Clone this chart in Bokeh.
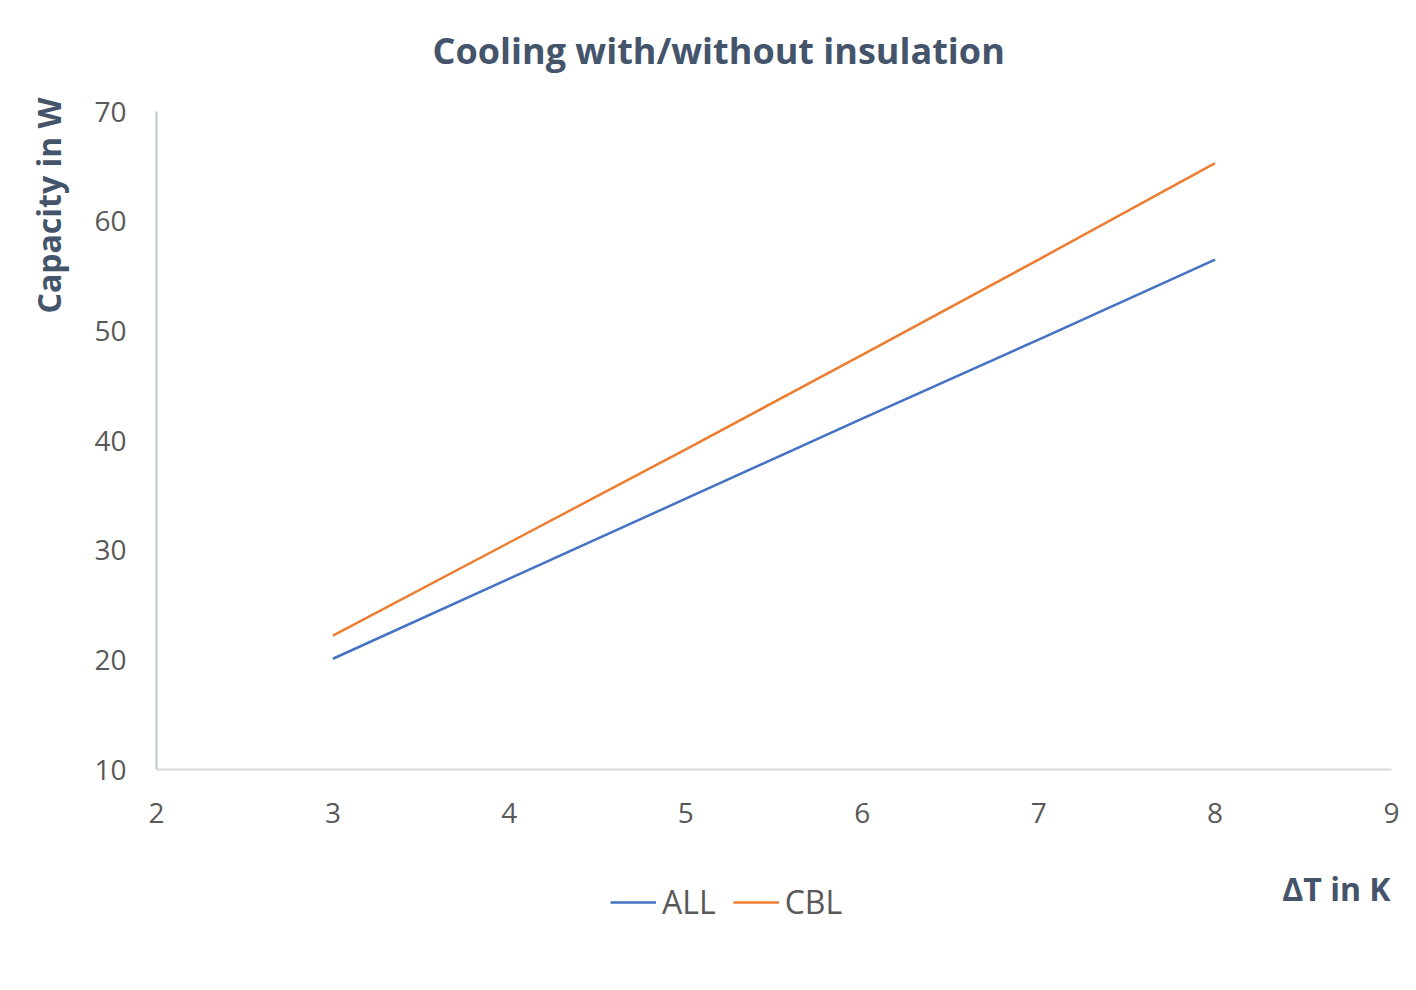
from bokeh.plotting import figure
from bokeh.layouts import column
from bokeh.models import Legend, LegendItem, FixedTicker, Range1d, Title, Label
from bokeh.embed import file_html
from bokeh.resources import INLINE

# Data
delta_t = [3, 4, 5, 6, 7, 8]
all_cap = [20.1, 27.4, 34.7, 42.0, 49.2, 56.5]
cbl_cap = [22.2, 30.7, 39.2, 47.8, 56.5, 65.3]
x_ticks = [2, 3, 4, 5, 6, 7, 8, 9]
y_ticks = [10, 20, 30, 40, 50, 60, 70]

TEXT = "#595959"
TITLE = "#44546A"
FONT = "Open Sans"
BLUE = "#4472C4"
ORANGE = "#ED7D31"


def strip(height):
    f = figure(width=1416, height=height, output_backend="svg", toolbar_location=None,
               x_range=Range1d(100, 101), y_range=Range1d(100, 101),
               x_axis_type=None, y_axis_type=None, min_border=0)
    f.outline_line_color = None
    f.xgrid.visible = False
    f.ygrid.visible = False
    return f


# Top strip with the chart title
p0 = strip(85)
p0.add_layout(Label(x=276, y=35, x_units="screen", y_units="screen",
                    text="Cooling with/without insulation", text_align="left",
                    text_baseline="middle", text_font=FONT, text_font_style="bold",
                    text_font_size="36px", text_color=TITLE))

# Main chart
p = figure(frame_width=1235, frame_height=658, output_backend="svg", toolbar_location=None,
           x_range=Range1d(2, 9), y_range=Range1d(10, 70),
           min_border_left=156, min_border_right=25, min_border_top=26, min_border_bottom=70)
p.outline_line_color = None
p.xgrid.visible = False
p.ygrid.visible = False

for ax in (p.xaxis[0], p.yaxis[0]):
    ax.major_tick_line_color = None
    ax.minor_tick_line_color = None
    ax.major_label_text_font = FONT
    ax.major_label_text_font_size = "28px"
    ax.major_label_text_color = TEXT
p.xaxis.ticker = FixedTicker(ticks=x_ticks)
p.yaxis.ticker = FixedTicker(ticks=y_ticks)
p.xaxis.axis_line_color = "#d9d9d9"
p.yaxis.axis_line_color = "#bfc5cf"
p.xaxis.axis_line_width = 2
p.yaxis.axis_line_width = 2
p.xaxis.major_label_standoff = 27
p.yaxis.major_label_standoff = 24

p.line(delta_t, all_cap, line_color=BLUE, line_width=2.5)
p.line(delta_t, cbl_cap, line_color=ORANGE, line_width=2.5)

p.add_layout(Title(text="Capacity in W", align="right", offset=-14, standoff=44,
                   text_font=FONT, text_font_style="bold",
                   text_font_size="32px", text_color=TITLE), "left")

# Lower strip holding the legend and the x-axis title
p2 = strip(151)
l1 = p2.line(delta_t, all_cap, line_color=BLUE, line_width=2.5)
l2 = p2.line(delta_t, cbl_cap, line_color=ORANGE, line_width=2.5)

p2.add_layout(Label(x=1234, y=102, x_units="screen", y_units="screen",
                    text="ΔT in K", text_align="right", text_baseline="middle",
                    text_font=FONT, text_font_style="bold",
                    text_font_size="32px", text_color=TITLE))

legend = Legend(items=[LegendItem(label="ALL", renderers=[l1]),
                       LegendItem(label="CBL", renderers=[l2])],
                orientation="horizontal", location=(454, 67),
                border_line_color=None, background_fill_alpha=0,
                padding=0, margin=0, spacing=17, glyph_width=46, glyph_height=30,
                label_standoff=6, label_text_font=FONT, label_text_font_size="32px",
                label_text_color=TEXT)
p2.add_layout(legend, "center")

open("out.html", "w").write(file_html(column(p0, p, p2, spacing=0), INLINE))
